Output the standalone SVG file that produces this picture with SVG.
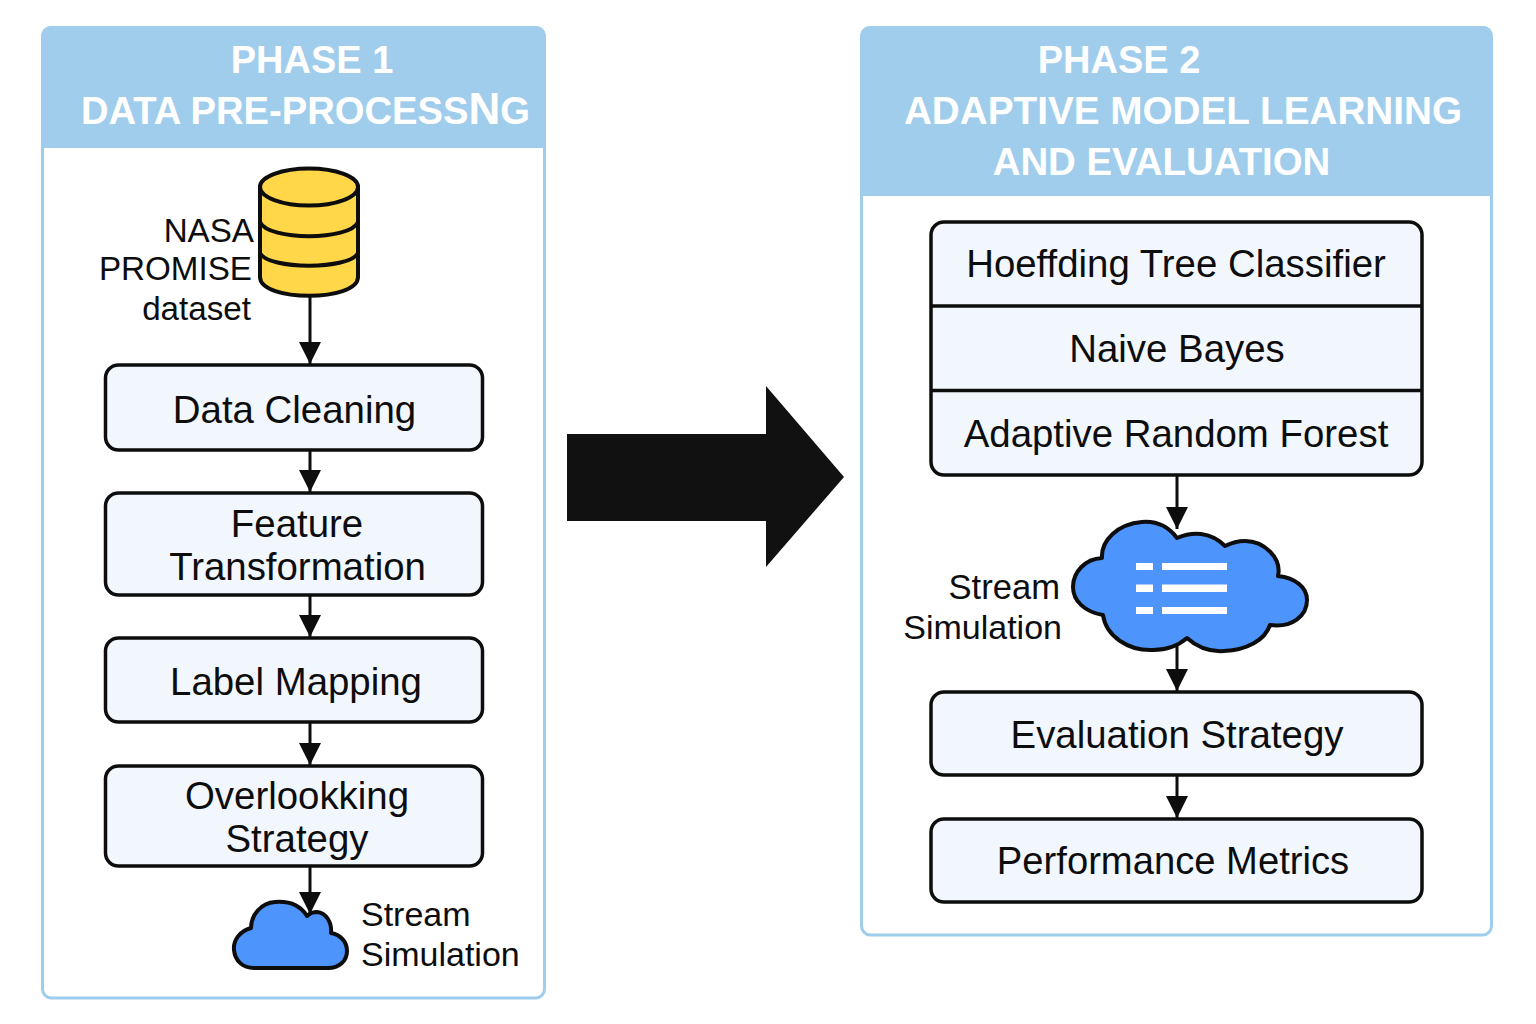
<svg xmlns="http://www.w3.org/2000/svg" width="1536" height="1024" viewBox="0 0 1536 1024">
<style>
text{font-family:"Liberation Sans",Arial,sans-serif;fill:#0d0d0d}
.h{font-size:38px;font-weight:bold;fill:#fff;text-anchor:middle}
.h2{font-size:38.700px}
.h3{font-size:38.400px}
.n{font-size:38.400px;text-anchor:middle}
.l{font-size:34px}
.e{font-size:33.200px;text-anchor:end}
.box{fill:#f2f7fe;stroke:#0d0d0d;stroke-width:3.500}
.panel{fill:#fff;stroke:#9fcdec;stroke-width:3}
.head{fill:#a0cdec}
.c{stroke:#0d0d0d;stroke-width:3;fill:none;marker-end:url(#a)}
.cloud{fill:#4d94fc;stroke:#0d0d0d;stroke-width:4;stroke-linejoin:round}
.db{fill:#ffd748;stroke:#0d0d0d;stroke-width:4}
</style>
<defs><marker id="a" markerUnits="userSpaceOnUse" markerWidth="22" markerHeight="22" refX="22" refY="11" orient="auto"><path d="M0 0L22 11L0 22Z" fill="#0d0d0d"/></marker></defs>
<rect width="1536" height="1024" fill="#fff"/>
<g id="phase1">
<rect class="panel" x="42.500" y="27.500" width="502" height="970.500" rx="9"/>
<path class="head" d="M41 148V36a10 10 0 0 1 10-10H536a10 10 0 0 1 10 10V148Z"/>
<text class="h" x="312" y="73">PHASE 1</text>
<text class="h" style="font-size:38.200px" x="305.500" y="124">DATA PRE-PROCESS<tspan style="font-size:44px">N</tspan>G</text>
</g>
<g id="phase2">
<rect class="panel" x="861.500" y="27.500" width="630" height="907.500" rx="9"/>
<path class="head" d="M860 196V36a10 10 0 0 1 10-10H1483a10 10 0 0 1 10 10V196Z"/>
<text class="h" x="1119" y="73">PHASE 2</text>
<text class="h h2" x="1183" y="124">ADAPTIVE MODEL LEARNING</text>
<text class="h h3" x="1161.500" y="175">AND EVALUATION</text>
</g>
<g id="connectors">
<path class="c" d="M310 295V364"/>
<path class="c" d="M310 450V492"/>
<path class="c" d="M310 595V637"/>
<path class="c" d="M310 722V765"/>
<path class="c" d="M310 866V914"/>
<path class="c" d="M1177 474V529"/>
<path class="c" d="M1177 646V691"/>
<path class="c" d="M1177 775V818"/>
</g>
<g id="dataset">
<path class="db" d="M260 187V277C260 302 358 302 358 277V187Z"/>
<path class="db" d="M260 222C268 241 350 241 358 222M260 253C268 270 350 270 358 253" style="fill:none"/>
<ellipse class="db" cx="309" cy="187" rx="49" ry="18.500"/>
<text class="e" x="254" y="242">NASA</text>
<text class="e" x="252" y="280">PROMISE</text>
<text class="e" x="251" y="320">dataset</text>
</g>
<g id="data-cleaning"><rect class="box" x="105.500" y="365" width="377" height="85" rx="13"/><text class="n" x="294.500" y="423">Data Cleaning</text></g>
<g id="feature-transformation"><rect class="box" x="105.500" y="493" width="377" height="102" rx="13"/><text class="n" x="297" y="537">Feature</text><text class="n" x="297.500" y="580">Transformation</text></g>
<g id="label-mapping"><rect class="box" x="105.500" y="638" width="377" height="84" rx="13"/><text class="n" x="296" y="695">Label Mapping</text></g>
<g id="overlooking-strategy"><rect class="box" x="105.500" y="766" width="377" height="100" rx="13"/><text class="n" x="297" y="809">Overlookking</text><text class="n" x="297" y="852">Strategy</text></g>
<g id="stream-small">
<path class="cloud" d="M307 916C300 905 288 901 275 902C261 903 251 915 251 928C240 931 233 940 234 950C235 961 243 968 254 968H328C339 968 347 961 347 951C347 942 341 935 331 933C332 922 326 913 317 912C313 912 310 913 307 916Z"/>
<text class="l" x="361" y="926">Stream</text>
<text class="l" x="361" y="966">Simulation</text>
</g>
<g id="classifiers">
<rect class="box" x="931" y="222" width="491" height="253" rx="13"/>
<path d="M931 306H1422M931 390.500H1422" stroke="#0d0d0d" stroke-width="3.500" fill="none"/>
<text class="n" x="1176" y="277">Hoeffding Tree Classifier</text>
<text class="n" x="1177" y="362">Naive Bayes</text>
<text class="n" x="1176" y="447">Adaptive Random Forest</text>
</g>
<g id="stream-large">
<path class="cloud" d="M1177 538C1168 526 1155 521 1142 522C1118 524 1101 540 1102 558C1085 559 1073 572 1073 587C1073 601 1085 612 1103 615C1106 636 1128 651 1153 650C1167 650 1179 645 1187 638C1197 647 1210 652 1224 651C1247 650 1265 640 1270 625C1292 628 1307 616 1307 600C1307 587 1295 578 1278 576C1282 558 1264 541 1245 541C1237 541 1231 543 1225 546C1217 538 1209 535 1201 534C1192 533 1184 535 1177 538Z"/>
<path d="M1136 563h17v7h-17zM1162 563h65v7h-65zM1136 584.500h17v7.500h-17zM1162 584.500h65v7.500h-65zM1136 607h17v7h-17zM1162 607h65v7h-65z" fill="#fff"/>
<text class="l" style="font-size:34.600px;text-anchor:end" x="1060" y="599">Stream</text>
<text class="l" style="text-anchor:end" x="1062" y="639">Simulation</text>
</g>
<g id="evaluation-strategy"><rect class="box" x="931" y="692" width="491" height="83" rx="13"/><text class="n" x="1177" y="748">Evaluation Strategy</text></g>
<g id="performance-metrics"><rect class="box" x="931" y="819" width="491" height="83" rx="13"/><text class="n" style="font-size:38.200px" x="1173" y="874">Performance Metrics</text></g>
<g id="phase-arrow"><path d="M567 434H766V386L844 477L766 567V521H567Z" fill="#111"/></g>
</svg>
